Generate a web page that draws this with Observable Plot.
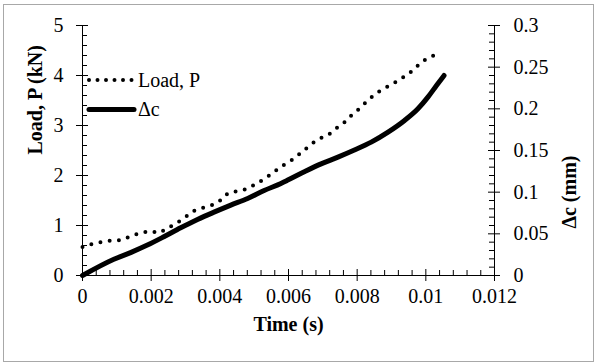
<!DOCTYPE html>
<html>
<head>
<meta charset="utf-8">
<script src="https://cdn.jsdelivr.net/npm/d3@7"></script>
<script src="https://cdn.jsdelivr.net/npm/@observablehq/plot@0.6"></script>
<style>
  html, body { margin: 0; padding: 0; background: white; }
  #wrap { position: relative; width: 595px; height: 362px; overflow: hidden; }
  #border { position: absolute; left: 3px; top: 4px; width: 591px; height: 358px; box-sizing: border-box; border: 1px solid #a8a8a8; pointer-events: none; }
  #legend { position: absolute; left: 0; top: 0; pointer-events: none; }
  svg text { font-family: "Liberation Serif", "Times New Roman", serif; }
</style>
</head>
<body>
<div id="wrap"><div id="chart"></div><div id="border"></div></div>
<script>
// ---- data ----
const loadTime = [0, 0.00027, 0.00055, 0.00086, 0.00115, 0.00141, 0.00168, 0.00196, 0.00224, 0.00249, 0.00275, 0.0030, 0.00324, 0.0035, 0.00378, 0.00403, 0.00424, 0.00452, 0.00479, 0.00505, 0.00529, 0.00554, 0.00578, 0.00602, 0.00625, 0.00648, 0.00671, 0.00695, 0.00719, 0.00744, 0.00766, 0.00787, 0.00809, 0.00829, 0.00851, 0.00875, 0.00901, 0.00926, 0.0095, 0.00972, 0.00994, 0.01019, 0.01045];
const loadP = [0.57, 0.63, 0.67, 0.70, 0.71, 0.79, 0.85, 0.89, 0.85, 0.95, 1.05, 1.17, 1.29, 1.35, 1.41, 1.51, 1.65, 1.69, 1.73, 1.83, 1.93, 2.05, 2.18, 2.27, 2.39, 2.52, 2.65, 2.75, 2.83, 2.97, 3.08, 3.23, 3.35, 3.49, 3.62, 3.73, 3.82, 3.93, 4.03, 4.17, 4.30, 4.39, 4.47];
const dcTime = [0, 0.000914, 0.00140, 0.00189, 0.00237, 0.00286, 0.00335, 0.00383, 0.00432, 0.00481, 0.00529, 0.00578, 0.00598, 0.00646, 0.00695, 0.00744, 0.00792, 0.00841, 0.0089, 0.00938, 0.00977, 0.01006, 0.01031, 0.01053];
const dcValue = [0, 0.0195, 0.0275, 0.0365, 0.0465, 0.0572, 0.0672, 0.0760, 0.0845, 0.0925, 0.102, 0.1105, 0.1145, 0.1245, 0.134, 0.142, 0.1505, 0.160, 0.172, 0.186, 0.200, 0.214, 0.228, 0.240];
const timeTicks = [0, 0.002, 0.004, 0.006, 0.008, 0.01, 0.012];
const loadTicks = [0, 1, 2, 3, 4, 5];
const dcTicks = [0, 0.05, 0.1, 0.15, 0.2, 0.25, 0.3];
const xTitle = "Time (s)";
const yTitle = "Load, P (kN)";
const y2Title = "\u0394c (mm)";
const legendLabels = ["Load, P", "\u0394c"];

// ---- layout ----
const W = 595, H = 362, mL = 82, mR = 101, mT = 25, mB = 87;
const iW = W - mL - mR, iH = H - mT - mB;
const k = 5 / 0.3; // Δc -> load-axis units

const loadData = loadTime.map((t, i) => ({t, p: loadP[i]}));
const dcData = dcTime.map((t, i) => ({t, dc: dcValue[i]}));

const loadMinor = d3.range(26).filter(i => i % 5).map(i => i * 0.2);
const dcMinor = d3.range(31).filter(i => i % 5).map(i => i * 0.01 * k);
const timeMinor = d3.range(31).filter(i => i % 5).map(i => i * 0.0004);

const font = "'Liberation Serif', 'Times New Roman', serif";
const txt = {fontSize: 20, fill: "black", fontFamily: font};

const chart = Plot.plot({
  width: W, height: H,
  marginLeft: mL, marginRight: mR, marginTop: mT, marginBottom: mB,
  style: {fontFamily: font, fontSize: "20px", background: "white", color: "black"},
  x: {domain: [0, 0.012], axis: null},
  y: {domain: [0, 5], axis: null},
  marks: [
    // axis lines
    Plot.ruleX([0, 0.012], {stroke: "black", strokeWidth: 1}),
    Plot.ruleY([0], {stroke: "black", strokeWidth: 1}),
    // left ticks
    Plot.ruleY(loadTicks, {y: d => d, insetRight: iW - 12, dx: -6, stroke: "black"}),
    Plot.ruleY(loadMinor, {y: d => d, insetRight: iW - 5, stroke: "black"}),
    // right ticks
    Plot.ruleY(dcTicks, {y: d => d * k, insetLeft: iW - 12, dx: 6, stroke: "black"}),
    Plot.ruleY(dcMinor, {y: d => d, insetLeft: iW - 5, stroke: "black"}),
    // bottom ticks
    Plot.ruleX(timeTicks, {x: d => d, insetTop: iH - 12, dy: 6, stroke: "black"}),
    Plot.ruleX(timeMinor, {x: d => d, insetTop: iH - 5, stroke: "black"}),
    // tick labels
    Plot.text(loadTicks, {y: d => d, text: d => String(d), frameAnchor: "left", dx: -19, textAnchor: "end", ...txt}),
    Plot.text(dcTicks, {y: d => d * k, text: d => String(d), frameAnchor: "right", dx: 19, textAnchor: "start", ...txt}),
    Plot.text(timeTicks, {x: d => d, text: d => String(d), frameAnchor: "bottom", dy: 27, ...txt}),
    // axis titles
    Plot.text([xTitle], {frameAnchor: "bottom", dy: 55, fontWeight: "bold", ...txt}),
    Plot.text([yTitle], {frameAnchor: "left", dx: -47, dy: 4, rotate: -90, fontWeight: "bold", ...txt}),
    Plot.text([y2Title], {frameAnchor: "right", dx: 75, dy: 5, rotate: -90, fontWeight: "bold", ...txt}),
    // series
    Plot.line(loadData, {x: "t", y: "p", stroke: "black", strokeWidth: 4, strokeDasharray: "0 9.3", strokeLinecap: "round"}),
    Plot.line(dcData, {x: "t", y: d => d.dc * k, stroke: "black", strokeWidth: 5, strokeLinecap: "round", strokeLinejoin: "round", curve: "monotone-x"})
  ]
});
document.getElementById("chart").appendChild(chart);

// legend overlay
const leg = d3.select("#wrap").append("svg")
  .attr("id", "legend").attr("width", W).attr("height", H);
const legItems = [
  {label: legendLabels[0], dash: "0 8.5", sw: 4, y: 80, x2: 132},
  {label: legendLabels[1], dash: null, sw: 5, y: 109.5, x2: 134}
];
legItems.forEach(it => {
  leg.append("line").attr("x1", 89).attr("x2", it.x2).attr("y1", it.y).attr("y2", it.y)
    .attr("stroke", "black").attr("stroke-width", it.sw).attr("stroke-linecap", "round")
    .attr("stroke-dasharray", it.dash);
  leg.append("text").attr("x", 138).attr("y", it.y + 6.5)
    .attr("font-family", font).attr("font-size", 20).attr("fill", "black")
    .text(it.label);
});
</script>
</body>
</html>
